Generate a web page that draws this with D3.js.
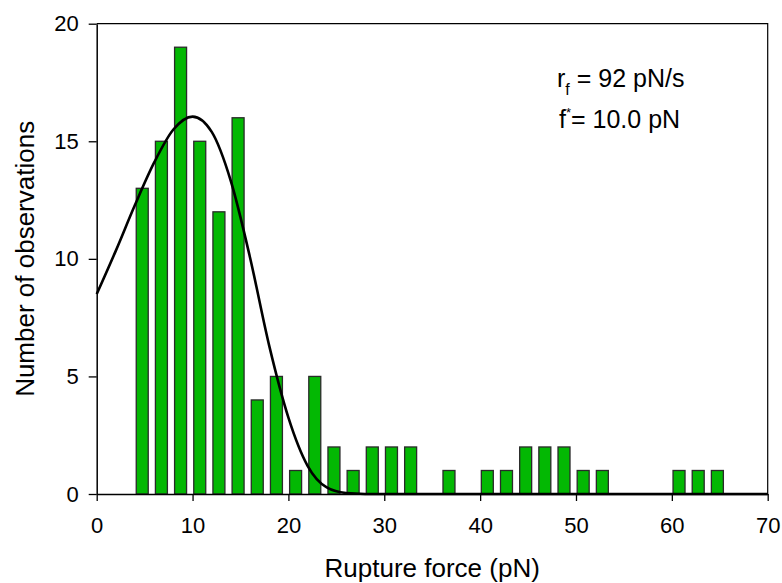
<!DOCTYPE html>
<html>
<head>
<meta charset="utf-8">
<script src="https://cdn.jsdelivr.net/npm/d3@7"></script>
<style>
  html, body { margin: 0; padding: 0; background: #fff; }
  svg { display: block; font-family: "Liberation Sans", Arial, sans-serif; }
</style>
</head>
<body>
<svg id="chart" width="782" height="583"></svg>
<script>
// Histogram bin centres (pN) and counts
const binCenters = [4.75, 6.75, 8.75, 10.75, 12.75, 14.75, 16.75, 18.75, 20.75, 22.75,
                    24.75, 26.75, 28.75, 30.75, 32.75, 36.75, 40.75, 42.75, 44.75, 46.75,
                    48.75, 50.75, 52.75, 60.75, 62.75, 64.75];
const binCounts  = [13, 15, 19, 15, 12, 16, 4, 5, 1, 5,
                    2, 1, 2, 2, 2, 1, 1, 1, 2, 2,
                    2, 1, 1, 1, 1, 1];
const binWidth = 1.25;

// Fitted rupture-force distribution, sampled points (force, expected count)
const fitForce = [0, 2, 4, 6, 8, 10, 12, 14, 16, 18, 20, 22, 24, 26, 28, 30, 40, 50, 60, 70];
const fitCount = [8.5, 10.35, 12.3, 14.1, 15.5, 16.05, 15.4, 13.3, 10.05, 6.3, 3.25, 1.2, 0.28, 0.04, 0.003, 0, 0, 0, 0, 0];

const xTicks = [0, 10, 20, 30, 40, 50, 60, 70];
const yTicks = [0, 5, 10, 15, 20];

const svg = d3.select("#chart");
const plotLeft = 96.7, plotRight = 767.7, plotTop = 23.7, plotBottom = 494;

const x = d3.scaleLinear().domain([0, 70]).range([plotLeft, plotRight]);
const y = d3.scaleLinear().domain([0, 20]).range([plotBottom, plotTop]);

// Bars
svg.append("g")
  .selectAll("rect")
  .data(binCenters.map((c, i) => ({ c, n: binCounts[i] })))
  .join("rect")
  .attr("x", d => x(d.c - binWidth / 2))
  .attr("width", d => x(d.c + binWidth / 2) - x(d.c - binWidth / 2))
  .attr("y", d => y(d.n))
  .attr("height", d => y(0) - y(d.n))
  .attr("fill", "#03b803")
  .attr("stroke", "#2a2a2a")
  .attr("stroke-width", 1.3);

// Fit curve
const line = d3.line()
  .x(d => x(d[0]))
  .y(d => y(d[1]))
  .curve(d3.curveMonotoneX);
svg.append("path")
  .datum(fitForce.map((f, i) => [f, fitCount[i]]))
  .attr("d", line)
  .attr("fill", "none")
  .attr("stroke", "#000")
  .attr("stroke-width", 2.6);

// Frame (top and right edges)
svg.append("path")
  .attr("d", `M${plotLeft},${plotTop}H${plotRight}V${plotBottom}`)
  .attr("fill", "none")
  .attr("stroke", "#000")
  .attr("stroke-width", 1.2);

// Axes
const xAxis = d3.axisBottom(x).tickValues(xTicks).tickSizeInner(7).tickSizeOuter(0).tickPadding(16);
const yAxis = d3.axisLeft(y).tickValues(yTicks).tickSizeInner(8).tickSizeOuter(0).tickPadding(10);

const gx = svg.append("g").attr("transform", `translate(0,${plotBottom})`).call(xAxis);
const gy = svg.append("g").attr("transform", `translate(${plotLeft},0)`).call(yAxis);

[gx, gy].forEach(g => {
  g.attr("font-size", null).attr("font-family", null);
  g.select(".domain").attr("stroke", "#000").attr("stroke-width", 1.5);
  g.selectAll(".tick line").attr("stroke", "#000").attr("stroke-width", 1.3);
  g.selectAll(".tick text")
    .attr("fill", "#000")
    .style("font-size", "22px");
});

// Axis titles
svg.append("text")
  .attr("x", (plotLeft + plotRight) / 2)
  .attr("y", 577)
  .attr("text-anchor", "middle")
  .style("font-size", "26px")
  .text("Rupture force (pN)");

svg.append("text")
  .attr("transform", `translate(34,${(plotTop + plotBottom) / 2}) rotate(-90)`)
  .attr("text-anchor", "middle")
  .style("font-size", "26px")
  .text("Number of observations");

// Annotation
const ann1 = svg.append("text").attr("x", 557).attr("y", 87).style("font-size", "25px");
ann1.append("tspan").text("r");
ann1.append("tspan").attr("dy", 8).style("font-size", "16px").text("f");
ann1.append("tspan").attr("dy", -8).text(" = 92 pN/s");

const ann2 = svg.append("text").attr("x", 559).attr("y", 128).style("font-size", "25px");
ann2.append("tspan").text("f");
ann2.append("tspan").attr("dy", -11).style("font-size", "13px").text("*");
ann2.append("tspan").attr("dy", 11).text("= 10.0 pN");
</script>
</body>
</html>
